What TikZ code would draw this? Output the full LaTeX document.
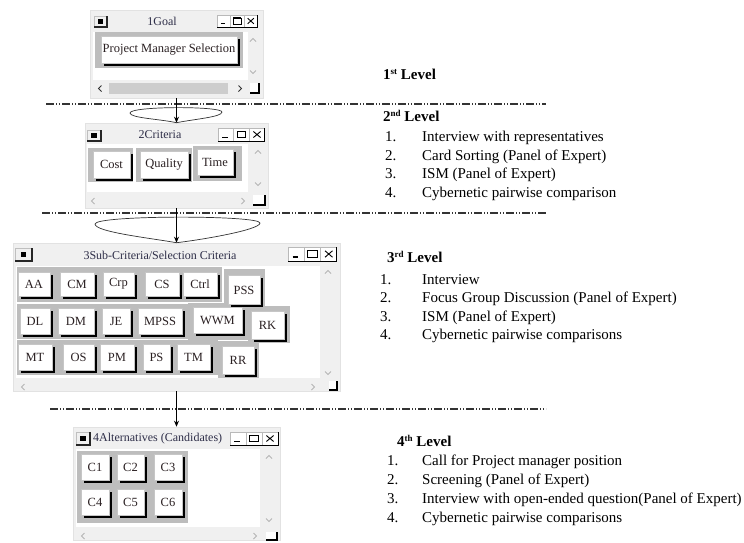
\documentclass[tikz,border=0pt]{standalone}
\usepackage{fontspec}
\setmainfont{Liberation Serif}
\usetikzlibrary{shadows,arrows.meta,calc}
\definecolor{winbg}{HTML}{F0F0F0}
\definecolor{winedge}{HTML}{E2E2E2}
\definecolor{grpgray}{HTML}{BDBDBD}
\definecolor{titletxt}{HTML}{2E2E48}
\definecolor{btntxt}{HTML}{2A2022}
\definecolor{sbgray}{HTML}{CDCDCD}
\definecolor{dimgray}{HTML}{B4B4B4}
\newcommand\sups[1]{\raisebox{5pt}{\fontsize{9}{9}\selectfont #1}}
\tikzset{
  win/.style={draw=winedge, fill=winbg, line width=0.6pt, inner sep=0pt, rectangle},
  content/.style={fill=white, draw=none},
  grp/.style={fill=grpgray, draw=none},
  btn/.style={draw=gray!45, fill=white, line width=0.6pt, font=\fontsize{12.5}{12.5}\selectfont, text=btntxt, inner sep=0pt,
    drop shadow={shadow xshift=2.8pt, shadow yshift=-2.8pt, fill=black, opacity=1}},
  wtitle/.style={font=\fontsize{12}{12}\selectfont, text=titletxt, inner sep=0pt},
  sepline/.style={line width=1.1pt, black!80, dash pattern=on 8pt off 2pt on 1.2pt off 1.6pt on 1.2pt off 2pt},
  conn/.style={line width=0.9pt, -{Stealth[length=6pt,width=5pt]}},
  loopc/.style={line width=0.7pt, black!80},
  lvl/.style={font=\fontsize{15}{18}\selectfont\bfseries, anchor=base west, inner sep=0pt},
  itm/.style={font=\fontsize{15}{18}\selectfont, anchor=base west, inner sep=0pt},
}
% title-bar icon: x1,y1,x2,y2
\newcommand\wicon[4]{%
  \fill[winbg] (#1,#2) rectangle (#3,#4);
  \draw[gray!50, line width=0.6pt] (#1,#4) -- (#1,#2) -- (#3,#2);
  \draw[black!85, line width=1.1pt] (#3,#2) -- (#3,#4) -- (#1,#4);
  \fill[black] ($(#1,#2)!0.5!(#3,#4)$) ++(-2.6,-2.6) rectangle ++(5.2,5.2);
}
% title-bar buttons: x, y, box width, box height
\newcommand\wbtns[4]{%
 \begin{scope}[shift={(#1,#2)}]
  \foreach \k in {0,1,2}{
   \fill[white] (\k*#3,0) rectangle ({(\k+1)*#3},#4);
   \draw[gray!55, line width=0.5pt] (\k*#3,#4) -- (\k*#3,0) -- ({(\k+1)*#3},0);
   \draw[black, line width=1pt] ({(\k+1)*#3},0) -- ({(\k+1)*#3},#4) -- (\k*#3,#4);
  }
  \draw[black, line width=1.6pt] (0.28*#3,0.72*#4) -- (0.62*#3,0.72*#4);
  \draw[black, line width=0.8pt] (1.22*#3,0.25*#4) rectangle (1.78*#3,0.75*#4);
  \draw[black, line width=1.3pt] (1.22*#3,0.25*#4) -- (1.78*#3,0.25*#4);
  \draw[black, line width=0.9pt] (2.27*#3,0.27*#4) -- (2.73*#3,0.73*#4) (2.27*#3,0.73*#4) -- (2.73*#3,0.27*#4);
 \end{scope}}
\newcommand\chu[3]{\draw[#3, line width=0.8pt] (#1-3,#2+1.5) -- (#1,#2-1.5) -- (#1+3,#2+1.5);}
\newcommand\chd[3]{\draw[#3, line width=0.8pt] (#1-3,#2-1.5) -- (#1,#2+1.5) -- (#1+3,#2-1.5);}
\newcommand\chl[3]{\draw[#3, line width=0.8pt] (#1+1.5,#2-3) -- (#1-1.5,#2) -- (#1+1.5,#2+3);}
\newcommand\chr[3]{\draw[#3, line width=0.8pt] (#1-1.5,#2-3) -- (#1+1.5,#2) -- (#1-1.5,#2+3);}
\newcommand\grip[4]{\fill[white] (#1,#2) rectangle (#3,#4);
  \draw[black, line width=1.2pt] (#3,#2) -- (#3,#4) -- (#1,#4);}
\begin{document}
\begin{tikzpicture}[x=1pt,y=-1pt]
\useasboundingbox[fill=white] (0,0) rectangle (744,542);

% ---------------- Window 1 ----------------
\node[win, minimum width=173pt, minimum height=88pt] (w1) at (176.5,54) {};
\wicon{94}{16}{107}{27}
\node[wtitle] (w1t) at (162,21.5) {1Goal};
\wbtns{217}{15}{13.5}{12}
\fill[content] (93,32) rectangle (248,80);
\fill[grp] (95,32) rectangle (243,68);
\node[btn, minimum width=136pt, minimum height=27pt] (pms) at (169,49.5) {Project Manager Selection};
\chu{253}{40}{dimgray}
\chd{253}{72}{dimgray}
\fill[sbgray] (109,83) rectangle (228,94);
\chl{100}{88.5}{black!80}
\chr{240}{88.5}{black!80}
\grip{250}{83}{259}{93}

% ---------------- Window 2 ----------------
\node[win, minimum width=183pt, minimum height=85pt] (w2) at (176.5,165.5) {};
\wicon{87}{130}{101}{141}
\node[wtitle] (w2t) at (160,135) {2Criteria};
\wbtns{218}{128}{15.6}{13}
\fill[content] (87,144) rectangle (248,192);
\fill[grp] (88,148) rectangle (133,182);
\fill[grp] (136,148) rectangle (192,182);
\fill[grp] (193,146) rectangle (242,181);
\node[btn, minimum width=37pt, minimum height=27pt] (cost) at (111.5,164.5) {Cost};
\node[btn, minimum width=48pt, minimum height=27pt] (quality) at (164,164.5) {Quality};
\node[btn, minimum width=36pt, minimum height=26pt] (time) at (215,162) {Time};
\chu{258}{152}{dimgray}
\chd{258}{184}{dimgray}
\chl{93}{201}{dimgray}
\chr{243}{201}{dimgray}
\grip{253}{195}{265}{205}

% ---------------- Window 3 ----------------
\node[win, minimum width=327pt, minimum height=148pt] (w3) at (176.5,317) {};
\wicon{15}{248}{32}{261}
\node[wtitle] (w3t) at (160,255) {3Sub-Criteria/Selection Criteria};
\wbtns{288}{247}{16.3}{14}
\fill[content] (16,266) rectangle (320,378);
\fill[grp] (17,267) rectangle (222,302);
\fill[grp] (224,269) rectangle (265,311);
\fill[grp] (17,304) rectangle (188,339);
\fill[grp] (188,303) rectangle (248,340);
\fill[grp] (248,306) rectangle (290,343);
\fill[grp] (17,340) rectangle (218,375);
\fill[grp] (218,341) rectangle (259,378);
% row 1
\node[btn, minimum width=32pt, minimum height=24pt] (aa)   at (34,284) {AA};
\node[btn, minimum width=34pt, minimum height=24pt] (cm)   at (77,284) {CM};
\node[btn, minimum width=31pt, minimum height=24pt] (crp)  at (118.5,284) {Crp};
\node[btn, minimum width=34pt, minimum height=24pt] (cs)   at (162,284) {CS};
\node[btn, minimum width=34pt, minimum height=24pt] (ctrl) at (200,284) {Ctrl};
\node[btn, minimum width=32pt, minimum height=29pt] (pss)  at (244,290) {PSS};
% row 2
\node[btn, minimum width=30pt, minimum height=26pt] (dl)   at (35,321) {DL};
\node[btn, minimum width=36pt, minimum height=26pt] (dm)   at (76,321) {DM};
\node[btn, minimum width=28pt, minimum height=26pt] (je)   at (116,321) {JE};
\node[btn, minimum width=44pt, minimum height=26pt] (mpss) at (160,321) {MPSS};
\node[btn, minimum width=49pt, minimum height=26pt] (wwm)  at (217.5,320) {WWM};
\node[btn, minimum width=33pt, minimum height=28pt] (rk)   at (267.5,325) {RK};
% row 3
\node[btn, minimum width=34pt, minimum height=26pt] (mt)   at (35,357) {MT};
\node[btn, minimum width=31pt, minimum height=26pt] (os)   at (78.5,357) {OS};
\node[btn, minimum width=34pt, minimum height=26pt] (pm)   at (117,357) {PM};
\node[btn, minimum width=27pt, minimum height=26pt] (ps)   at (156.5,357) {PS};
\node[btn, minimum width=33pt, minimum height=26pt] (tm)   at (193.5,357) {TM};
\node[btn, minimum width=32pt, minimum height=28pt] (rr)   at (238,360) {RR};
\chu{328}{272}{dimgray}
\chd{328}{373}{dimgray}
\chl{23}{387}{dimgray}
\chr{313}{387}{dimgray}
\grip{329}{381}{337}{390}

% ---------------- Window 4 ----------------
\node[win, minimum width=207pt, minimum height=113pt] (w4) at (176.5,483.5) {};
\wicon{76}{432}{90}{445}
\node[wtitle, anchor=west] (w4t) at (93,439) {4Alternatives (Candidates)};
\wbtns{230}{432}{16}{13}
\fill[content] (76,449) rectangle (260,527);
\fill[grp] (77,451) rectangle (188,523);
\node[btn, minimum width=28pt, minimum height=26pt] (c1) at (95,467) {C1};
\node[btn, minimum width=27pt, minimum height=26pt] (c2) at (130.5,467) {C2};
\node[btn, minimum width=28pt, minimum height=26pt] (c3) at (168,467) {C3};
\node[btn, minimum width=28pt, minimum height=26pt] (c4) at (95,502) {C4};
\node[btn, minimum width=27pt, minimum height=26pt] (c5) at (130.5,502) {C5};
\node[btn, minimum width=28pt, minimum height=26pt] (c6) at (168,502) {C6};
\chu{269}{457}{dimgray}
\chd{269}{520}{dimgray}
\chl{83}{536}{dimgray}
\chr{255}{536}{dimgray}
\grip{266}{532}{277}{540}

% ---------------- separators ----------------
\coordinate (s1a) at (46,104);  \coordinate (s1b) at (546,104);
\coordinate (s2a) at (42,213);  \coordinate (s2b) at (546,213);
\coordinate (s3a) at (50,409);  \coordinate (s3b) at (546,409);
\draw[sepline] (s1a) -- (s1b);
\draw[sepline] (s2a) -- (s2b);
\draw[sepline] (s3a) -- (s3b);

% ---------------- loops and connectors ----------------
\draw[loopc] (w2.north) .. controls (160,119) and (130,118) .. (130,113)
   .. controls (130,106) and (222,106) .. (222,112)
   .. controls (222,117) and (195,119) .. (w2.north);
\draw[loopc] (w3.north) .. controls (150,238) and (95,232) .. (95,224)
   .. controls (95,215) and (260,215) .. (260,223)
   .. controls (260,230) and (200,240) .. (w3.north);
\draw[conn] (w1.south) -- (w2.north);
\draw[conn] (w2.south) -- (w3.north);
\draw[conn] (w3.south) -- (w4.north);

% ---------------- level texts ----------------
\node[lvl] (l1) at (383,79) {1\sups{st} Level};
\node[lvl] (l2) at (383,121) {2\sups{nd} Level};
\node[itm] (l2n1) at (385,141.5) {1.};
\node[itm] (l2t1) at (422,141.5) {Interview with representatives};
\node[itm] (l2n2) at (385,160) {2.};
\node[itm] (l2t2) at (422,160) {Card Sorting (Panel of Expert)};
\node[itm] (l2n3) at (385,178.5) {3.};
\node[itm] (l2t3) at (422,178.5) {ISM (Panel of Expert)};
\node[itm] (l2n4) at (385,197) {4.};
\node[itm] (l2t4) at (422,197) {Cybernetic pairwise comparison};

\node[lvl] (l3) at (387,262) {3\sups{rd} Level};
\node[itm] (l3n1) at (380,284) {1.};
\node[itm] (l3t1) at (422,284) {Interview};
\node[itm] (l3n2) at (380,302.5) {2.};
\node[itm] (l3t2) at (422,302.5) {Focus Group Discussion (Panel of Expert)};
\node[itm] (l3n3) at (380,321) {3.};
\node[itm] (l3t3) at (422,321) {ISM (Panel of Expert)};
\node[itm] (l3n4) at (380,339.5) {4.};
\node[itm] (l3t4) at (422,339.5) {Cybernetic pairwise comparisons};

\node[lvl] (l4) at (397,446) {4\sups{th} Level};
\node[itm] (l4n1) at (387,465) {1.};
\node[itm] (l4t1) at (422,465) {Call for Project manager position};
\node[itm] (l4n2) at (387,484) {2.};
\node[itm] (l4t2) at (422,484) {Screening (Panel of Expert)};
\node[itm] (l4n3) at (387,503) {3.};
\node[itm] (l4t3) at (422,503) {Interview with open-ended question(Panel of Expert)};
\node[itm] (l4n4) at (387,522) {4.};
\node[itm] (l4t4) at (422,522) {Cybernetic pairwise comparisons};
\end{tikzpicture}
\end{document}
